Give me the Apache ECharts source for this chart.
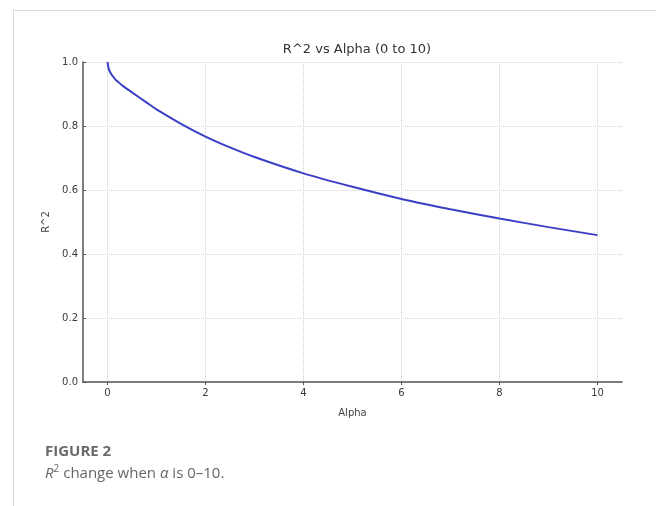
<!DOCTYPE html>
<html>
<head>
<meta charset="utf-8">
<script src="https://cdn.jsdelivr.net/npm/echarts@6/dist/echarts.min.js"></script>
<style>
  html, body {margin: 0; padding: 0; background: #fff;}
  #wrap {position: relative; width: 656px; height: 506px; overflow: hidden;}
  #card {position: absolute; left: 13px; top: 10px; width: 650px; height: 520px; border: 1px solid #d9d9d9; box-sizing: border-box;}
  #chart {position: absolute; left: 0; top: 0; width: 656px; height: 506px;}
  .cap {position: absolute; left: 45px; font-family: 'Open Sans', 'Noto Sans', sans-serif; color: #666;}
  #fig {top: 440px; font-size: 15px; font-weight: bold; color: #6a6a6a;}
  #desc {top: 461px; font-size: 15px;}
</style>
</head>
<body>
<div id="wrap">
  <div id="card"></div>
  <div id="chart"></div>
  <div class="cap" id="fig">FIGURE 2</div>
  <div class="cap" id="desc"><i>R</i><sup style="font-size:10px">2</sup> change when <i>α</i> is 0–10.</div>
</div>
<script>
// values
var alpha = [0, 0.04, 0.15, 0.3, 0.5, 0.8, 1.0, 1.5, 2, 2.5, 3, 4, 5, 6, 7, 8, 9, 10]
var r2 = [1.0, 0.972, 0.947, 0.927, 0.905, 0.873, 0.852, 0.807, 0.767, 0.733, 0.703, 0.652, 0.610, 0.572, 0.540, 0.511, 0.484, 0.459]
var xTicks = [0, 2, 4, 6, 8, 10]

var chart = echarts.init(document.getElementById('chart'))
chart.setOption({
  animation: false,
  textStyle: {fontFamily: 'DejaVu Sans'},
  title: {
    text: 'R^2 vs Alpha (0 to 10)',
    left: 352,
    textAlign: 'center',
    top: 38,
    textStyle: {fontSize: 13, fontWeight: 'normal', color: '#333', fontFamily: 'DejaVu Sans'}
  },
  grid: {left: 83, right: 34, top: 62, bottom: 124},
  xAxis: {
    type: 'value',
    min: -0.5,
    max: 10.5,
    name: 'Alpha',
    nameLocation: 'middle',
    nameGap: 26,
    nameTextStyle: {fontSize: 10, color: '#444'},
    axisLine: {onZero: false, lineStyle: {color: '#555', width: 1.5}},
    axisTick: {show: true, customValues: xTicks, length: 3, lineStyle: {color: '#555'}},
    axisLabel: {customValues: xTicks, fontSize: 10, color: '#3a3a3a', margin: 6},
    splitLine: {show: true, lineStyle: {color: '#cfcfcf', type: 'dotted'}}
  },
  yAxis: {
    type: 'value',
    min: 0,
    max: 1,
    interval: 0.2,
    name: 'R^2',
    nameLocation: 'middle',
    nameGap: 32,
    nameTextStyle: {fontSize: 10, color: '#444'},
    axisLine: {show: true, onZero: false, lineStyle: {color: '#555', width: 1.5}},
    axisTick: {show: true, inside: true, length: 3, lineStyle: {color: '#555'}},
    axisLabel: {fontSize: 10, color: '#3a3a3a', margin: 5, formatter: function (v) { return v.toFixed(1) }},
    splitLine: {show: true, lineStyle: {color: '#cfcfcf', type: 'dotted'}}
  },
  series: [{
    type: 'line',
    data: alpha.map(function (a, i) { return [a, r2[i]] }),
    smooth: 0.3,
    showSymbol: false,
    lineStyle: {color: '#3b3fc6', width: 2}
  }]
})
</script>
</body>
</html>
